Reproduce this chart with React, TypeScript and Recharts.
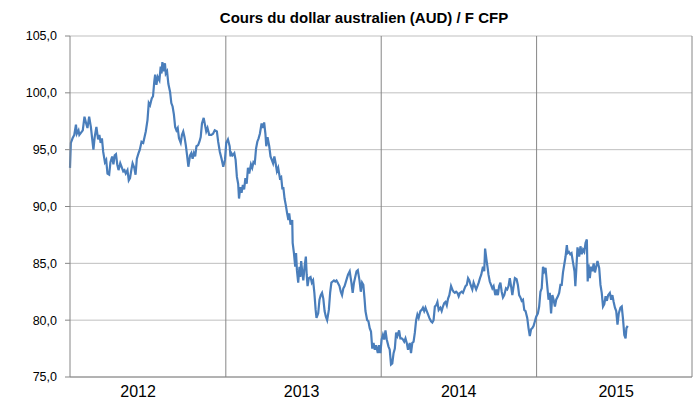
import { LineChart, Line, XAxis, YAxis, CartesianGrid, ReferenceLine } from "recharts";

// days since 1 Jan 2012
const days = [
  0, 2, 6, 10, 14, 16, 20, 22, 26, 30, 34, 38, 41, 45, 49, 52, 55, 58, 62, 66, 69, 72, 75, 78, 82, 85, 88, 92, 95, 99,
  102, 105, 108, 111, 114, 118, 121, 125, 128, 131, 135, 138, 141, 144, 147, 151, 154, 157, 161, 164, 168, 172, 175, 178,
  182, 185, 188, 192, 195, 198, 200, 203, 206, 210, 213, 215, 217, 220, 223, 225, 228, 231, 235, 238, 241, 244, 247, 250,
  253, 256, 260, 263, 266, 269, 272, 275, 278, 282, 285, 288, 291, 294, 297, 301, 304, 307, 310, 314, 317, 320, 323, 327,
  332, 336, 340, 345, 348, 352, 356, 360, 364, 367, 371, 375, 377, 379, 382, 386, 389, 392, 395, 397, 400, 403, 406, 409,
  412, 415, 418, 421, 425, 428, 431, 434, 437, 440, 443, 446, 450, 453, 456, 459, 461, 464, 468, 471, 474, 477, 480, 483,
  486, 489, 493, 496, 499, 501, 504, 507, 510, 513, 515, 518, 522, 523, 526, 529, 531, 533, 536, 539, 541, 543, 546, 548,
  551, 554, 556, 558, 561, 565, 568, 571, 574, 577, 579, 583, 586, 589, 592, 595, 598, 601, 604, 608, 611, 614, 617, 620,
  623, 626, 629, 633, 636, 639, 642, 645, 649, 653, 657, 661, 664, 667, 670, 673, 676, 680, 683, 686, 689, 692, 694, 698,
  701, 704, 707, 710, 713, 716, 719, 723, 726, 729, 732, 735, 738, 741, 744, 748, 751, 754, 757, 760, 763, 766, 769, 773,
  776, 779, 782, 785, 788, 791, 794, 798, 801, 804, 807, 810, 813, 816, 819, 823, 826, 829, 832, 835, 838, 841, 844, 848,
  851, 854, 857, 860, 863, 866, 870, 873, 876, 879, 882, 885, 888, 891, 895, 898, 901, 904, 907, 910, 913, 916, 920, 923,
  926, 929, 932, 935, 938, 941, 945, 948, 951, 954, 957, 960, 963, 966, 970, 973, 975, 978, 981, 983, 986, 989, 992, 995,
  999, 1002, 1005, 1008, 1011, 1014, 1017, 1020, 1024, 1027, 1030, 1033, 1036, 1039, 1042, 1045, 1049, 1052, 1055, 1058,
  1061, 1064, 1067, 1070, 1074, 1077, 1080, 1083, 1086, 1089, 1092, 1095, 1099, 1102, 1105, 1108, 1111, 1114, 1117, 1120,
  1124, 1127, 1130, 1133, 1136, 1139, 1142, 1146, 1149, 1152, 1155, 1158, 1161, 1164, 1167, 1169, 1172, 1175, 1178, 1181,
  1185, 1187, 1189, 1192, 1196, 1199, 1202, 1205, 1208, 1211, 1214, 1216, 1218, 1221, 1224, 1227, 1230, 1233, 1236, 1239,
  1243, 1246, 1249, 1252, 1255, 1258, 1261, 1264, 1268, 1271, 1274, 1277, 1280, 1283, 1286, 1289, 1293, 1296, 1299, 1302,
  1305, 1307, 1310,
];

// AUD in F CFP
const rates = [
  93.4, 95.6, 96.0, 96.3, 97.2, 96.4, 96.7, 96.3, 96.5, 96.7, 97.9, 97.3, 96.9, 97.9, 97.0, 96.0, 95.0, 96.1, 97.0, 95.9,
  96.3, 95.6, 96.0, 94.8, 93.9, 94.1, 92.9, 92.8, 93.9, 94.4, 93.7, 94.5, 94.6, 93.7, 93.2, 93.8, 93.5, 93.1, 93.2, 92.9,
  93.2, 92.3, 92.5, 93.2, 93.8, 93.4, 92.8, 94.2, 94.7, 95.0, 95.7, 95.6, 96.1, 96.6, 97.6, 99.1, 98.9, 99.5, 99.7, 101.0,
  101.6, 100.7, 101.4, 101.1, 102.3, 101.7, 102.7, 101.9, 102.6, 101.7, 101.9, 100.8, 100.1, 99.1, 98.8, 98.1, 97.0, 96.7,
  96.9, 96.0, 95.6, 96.3, 96.6, 96.1, 95.4, 94.5, 93.5, 94.5, 94.7, 94.2, 94.7, 94.4, 95.3, 95.4, 95.7, 96.1, 97.3, 97.8,
  97.2, 96.6, 96.9, 96.3,
  96.3, 96.4, 96.7, 96.6, 95.7, 94.8, 94.2, 93.5, 94.1, 95.6, 95.9, 95.3, 94.4, 94.7, 94.5, 94.7, 94.1, 92.6, 92.0, 90.7,
  91.7, 91.2, 91.9, 91.5, 92.5, 92.0, 93.4, 92.9, 93.7, 93.4, 93.9, 93.8, 95.1, 95.7, 96.0, 96.4, 97.3, 96.9, 97.4, 96.4,
  95.3, 96.1, 95.3, 94.4, 94.1, 93.8, 94.4, 93.8, 93.1, 93.4, 92.5, 92.6, 91.5, 91.7, 90.7, 90.1, 89.4, 88.8, 89.4, 88.4,
  88.8, 86.8, 85.9, 84.7, 85.9, 84.4, 83.3, 84.7, 83.8, 85.2, 84.1, 83.5, 84.7, 85.6, 84.0, 83.0, 83.7, 83.8, 83.3, 83.5,
  82.4, 80.9, 80.2, 80.6, 81.8, 82.2, 82.4, 81.9, 80.8, 80.3, 80.0, 80.9, 82.4, 83.3, 83.4, 83.5, 83.4, 83.5, 83.3, 83.0,
  82.5, 82.2, 82.8, 83.0, 83.5, 84.0,
  84.3, 83.3, 82.4, 83.3, 83.8, 84.3, 84.4, 83.5, 82.5, 83.3, 83.1, 81.8, 80.8, 80.0, 79.9, 79.3, 79.0, 77.5, 78.0, 77.4,
  77.8, 77.1, 77.8, 77.1, 78.3, 78.7, 78.3, 79.1, 78.3, 77.7, 77.4, 76.1, 76.2, 77.1, 77.5, 78.9, 78.6, 79.1, 78.4, 78.4,
  78.3, 78.1, 78.4, 78.0, 77.4, 78.0, 77.1, 78.0, 78.1, 78.9, 80.0, 80.5, 80.2, 80.8, 80.9, 81.1, 80.8, 81.1, 80.8, 80.5,
  80.2, 79.9, 79.8, 80.0, 81.2, 81.3, 81.6, 80.9, 81.1, 80.8, 81.2, 81.5, 81.6, 81.3, 81.9, 82.2, 83.0, 82.7, 82.5, 82.4,
  82.5, 82.4, 82.1, 82.4, 82.5, 82.4, 82.7, 83.0, 83.1, 83.7, 83.5, 83.1, 82.7, 83.3, 83.0, 82.7, 83.0, 83.3, 83.7, 84.0,
  84.7, 84.3, 86.3, 85.4, 84.6,
  84.0, 83.4, 83.1, 82.8, 83.0, 82.2, 82.7, 82.2, 83.0, 83.3, 82.5, 82.0, 82.2, 82.8, 82.7, 83.0, 83.7, 83.0, 82.2, 83.0,
  83.7, 83.6, 83.1, 82.2, 82.0, 81.7, 81.8, 80.9, 80.8, 80.2, 79.3, 78.6, 79.2, 79.3, 79.5, 79.9, 80.3, 80.6, 81.2, 82.5,
  82.8, 84.7, 84.3, 84.6, 83.4, 81.8, 82.4, 80.6, 82.2, 81.8, 81.2, 81.8, 82.1, 82.4, 83.1, 83.1, 84.2, 84.9, 85.6, 86.6,
  85.9, 86.0, 85.8, 85.9, 85.2, 84.3, 83.0, 84.3, 86.4, 85.6, 86.5, 85.8, 86.2, 86.0, 86.8, 87.1, 83.4, 84.9, 83.7, 84.7,
  84.3, 85.0, 84.2, 84.7, 85.2, 84.6, 83.1, 82.4, 81.2, 81.4, 82.1, 81.7, 82.2, 82.4, 81.8, 82.2, 81.6, 81.1, 80.8, 79.6,
  80.6, 81.1, 81.2, 80.1, 78.7, 78.4, 79.3, 79.5,
];

const yearLabels = ["2012", "2013", "2014", "2015"];
const yearLabelDays = [160, 544, 913, 1283];
const yearBoundaryDays = [366, 731, 1096, 1461];
const yTicks = [75, 80, 85, 90, 95, 100, 105];

const data = days.map((d, i) => ({ day: d, rate: rates[i] }));

const axisGrey = "#868686";

export default function App() {
  return (
    <div style={{ position: "absolute", left: 0, top: 0, width: 697, height: 401, background: "#fff" }}>
      <div
        style={{
          position: "absolute",
          top: 8,
          left: 364,
          transform: "translateX(-50%)",
          whiteSpace: "nowrap",
          fontFamily: "Liberation Sans, Arial, sans-serif",
          fontWeight: "bold",
          fontSize: 15,
          lineHeight: "20px",
          color: "#000",
        }}
      >
        Cours du dollar australien (AUD) / F CFP
      </div>
      <LineChart width={697} height={401} data={data} margin={{ top: 36, right: 5, left: 0, bottom: 0 }}>
        <CartesianGrid stroke="#bfbfbf" vertical={false} />
        {yearBoundaryDays.map((d) => (
          <ReferenceLine key={d} x={d} stroke={axisGrey} ifOverflow="extendDomain" />
        ))}
        <XAxis
          type="number"
          dataKey="day"
          domain={[0, 1461]}
          ticks={yearLabelDays}
          tickFormatter={(v: number) => yearLabels[yearLabelDays.indexOf(v)]}
          tick={{ fill: "#000", fontSize: 16, fontFamily: "Liberation Sans, Arial, sans-serif" }}
          axisLine={{ stroke: axisGrey }}
          tickLine={false}
          tickMargin={3}
          height={24}
        />
        <YAxis
          domain={[75, 105]}
          ticks={yTicks}
          width={70}
          tickFormatter={(v: number) => v.toFixed(1).replace(".", ",")}
          tick={{ fill: "#000", fontSize: 12.5, fontFamily: "Liberation Sans, Arial, sans-serif" }}
          axisLine={{ stroke: axisGrey }}
          tickLine={{ stroke: axisGrey }}
          tickSize={5}
          tickMargin={8}
        />
        <Line
          type="linear"
          dataKey="rate"
          stroke="#4a7ebb"
          strokeWidth={2.2}
          dot={false}
          isAnimationActive={false}
        />
      </LineChart>
    </div>
  );
}
